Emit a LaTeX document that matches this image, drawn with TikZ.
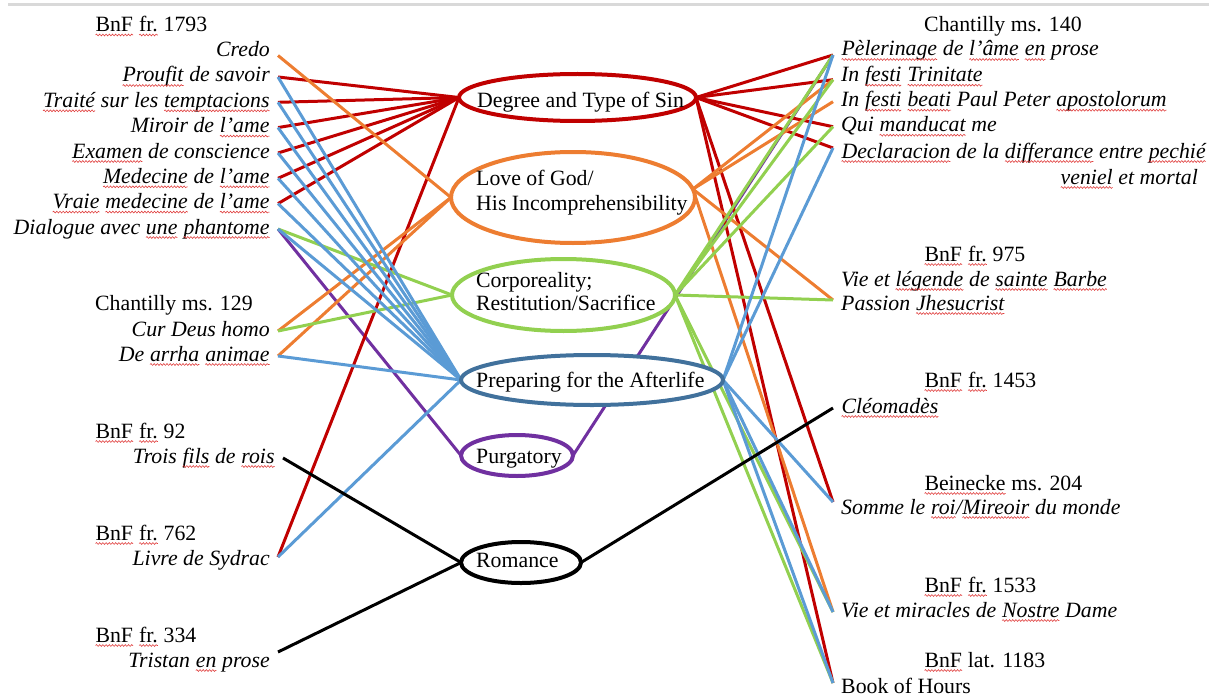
\documentclass[tikz,border=0pt]{standalone}
\usepackage{fontspec}
\setmainfont{Liberation Serif}
\usetikzlibrary{shapes.geometric,decorations.pathmorphing}
\definecolor{cred}{HTML}{C00000}
\definecolor{corange}{HTML}{ED7D31}
\definecolor{cgreen}{HTML}{92D050}
\definecolor{cblue}{HTML}{5B9BD5}
\definecolor{cdblue}{HTML}{41719C}
\definecolor{cpurple}{HTML}{7030A0}
\definecolor{squig}{HTML}{E0403F}
\newcommand\fs{\fontsize{21.8pt}{25.5pt}\selectfont}
\newcommand\sq[1]{\tikz[baseline=(w.base)]{\node[inner sep=0pt,outer sep=0pt,anchor=base,text height=,text depth=](w){#1};\draw[squig,line width=0.6pt,decorate,decoration={snake,amplitude=0.9pt,segment length=3.2pt}]([yshift=-3.5pt]w.base west)--([yshift=-3.5pt]w.base east);}}
\pgfdeclarelayer{bg}
\pgfsetlayers{bg,main}
\begin{document}
\begin{tikzpicture}[x=1pt,y=-1pt,
  hd/.style={anchor=base west,inner sep=0pt,font=\fs},
  litem/.style={anchor=base east,inner xsep=8pt,inner ysep=0pt,text height=15pt,text depth=5pt,font=\fs\itshape},
  ritem/.style={anchor=base west,inner xsep=8pt,inner ysep=0pt,text height=15pt,text depth=5pt,font=\fs\itshape},
  ell/.style={ellipse,draw,fill=white,line width=4pt,inner sep=0pt,outer sep=0pt},
  etext/.style={anchor=base west,inner sep=0pt,font=\fs},
  er/.style={cred,line width=3pt},
  eo/.style={corange,line width=3pt},
  eg/.style={cgreen,line width=3pt},
  eb/.style={cblue,line width=3pt},
  ep/.style={cpurple,line width=3pt},
  ek/.style={black,line width=3pt}]
\useasboundingbox (0,0) rectangle (1209,698);
\draw[black!15,line width=3pt] (8,5) -- (1209,5);

% left headers
\node[hd] (h1) at (95,31.5) {\sq{BnF} \sq{fr.} 1793};
\node[hd] (h2) at (95,310) {Chantilly ms. 129};
\node[hd] (h3) at (95,438) {\sq{BnF} \sq{fr.} 92};
\node[hd] (h4) at (95,540) {\sq{BnF} \sq{fr.} 762};
\node[hd] (h5) at (95,642) {\sq{BnF} \sq{fr.} 334};
% left items
\node[litem] (credo) at (278,56.5) {Credo};
\node[litem] (proufit) at (278,82) {\sq{Proufit} de savoir};
\node[litem] (traite) at (278,107.3) {\sq{Traité} sur les \sq{temptacions}};
\node[litem] (miroir) at (278,132.6) {Miroir de \sq{l’ame}};
\node[litem] (examen) at (278,158) {\sq{Examen} de conscience};
\node[litem] (medecine) at (278,183.3) {\sq{Medecine} de \sq{l’ame}};
\node[litem] (vraie) at (278,208.6) {\sq{Vraie} \sq{medecine} de \sq{l’ame}};
\node[litem] (dialogue) at (278,234) {Dialogue avec \sq{une} \sq{phantome}};
\node[litem] (cur) at (278,336) {Cur Deus homo};
\node[litem] (arrha) at (278,361) {De \sq{arrha} \sq{animae}};
\node[litem] (trois) at (283,463) {Trois \sq{fils} de \sq{rois}};
\node[litem] (sydrac) at (278,565) {Livre de Sydrac};
\node[litem] (tristan) at (278,667) {Tristan \sq{en} prose};

% right headers
\node[hd] (h6) at (924,31.7) {Chantilly ms. 140};
\node[hd] (h7) at (924,261) {\sq{BnF} \sq{fr.} 975};
\node[hd] (h8) at (924,387) {\sq{BnF} \sq{fr.} 1453};
\node[hd] (h9) at (924,490) {\sq{Beinecke} ms. 204};
\node[hd] (h10) at (924,592) {\sq{BnF} \sq{fr.} 1533};
\node[hd] (h11) at (924,667) {\sq{BnF} lat. 1183};
% right items
\node[ritem] (pel) at (833,56) {\sq{Pèlerinage} de \sq{l’âme} \sq{en} prose};
\node[ritem] (trin) at (833,81.7) {In \sq{festi} \sq{Trinitate}};
\node[ritem] (beati) at (833,106.7) {In \sq{festi} \sq{beati} Paul Peter \sq{apostolorum}};
\node[ritem] (qui) at (833,131.7) {Qui \sq{manducat} me};
\node[ritem] (decl) at (833,158) {\sq{Declaracion} de la \sq{differance} entre \sq{pechié}};
\node[litem,inner xsep=0pt] (declb) at (1198,184) {\sq{veniel} et mortal};
\node[ritem] (barbe) at (833,286) {Vie et \sq{légende} de \sq{sainte} \sq{Barbe}};
\node[ritem] (passion) at (833,310) {Passion \sq{Jhesucrist}};
\node[ritem] (cleo) at (833,413) {\sq{Cléomadès}};
\node[ritem] (somme) at (833,514) {Somme le \sq{roi}/\sq{Mireoir} du monde};
\node[ritem] (miracles) at (833,617) {Vie et miracles de \sq{Nostre} Dame};
\node[ritem,font=\fs] (book) at (833,693) {Book of Hours};

% topic ellipses
\node[ell,draw=cred,minimum width=237pt,minimum height=47pt] (sin) at (577.5,97.5) {};
\node[ell,draw=corange,minimum width=244pt,minimum height=91pt] (love) at (573,197.5) {};
\node[ell,draw=cgreen,minimum width=223pt,minimum height=72pt] (corp) at (563.5,295) {};
\node[ell,draw=cdblue,minimum width=262pt,minimum height=50pt] (prep) at (592,380) {};
\node[ell,draw=cpurple,minimum width=112pt,minimum height=41pt] (purg) at (517,455.5) {};
\node[ell,draw=black,minimum width=120pt,minimum height=41pt] (rom) at (521,562.5) {};
\node[etext] (sinT) at (477,107) {Degree and Type of Sin};
\node[etext] (loveT1) at (476,185) {Love of God/};
\node[etext] (loveT2) at (476,210) {His Incomprehensibility};
\node[etext] (corpT1) at (476,287) {Corporeality;};
\node[etext] (corpT2) at (476,310) {Restitution/Sacrifice};
\node[etext] (prepT) at (476,387) {Preparing for the Afterlife};
\node[etext] (purgT) at (476,463) {Purgatory};
\node[etext] (romT) at (476,567) {Romance};

\begin{pgfonlayer}{bg}
% Purgatory (drawn first, partly hidden below the green line)
\draw[ep] (dialogue.east) -- (purg.west);
\draw[ep] (purg.east) -- ([yshift=-4pt]pel.west);
% Degree and Type of Sin
\foreach \n in {proufit,traite,miroir,examen,medecine,vraie}
  \draw[er] (\n.east) -- (sin.west);
\draw[er] ([yshift=3pt]sydrac.east) -- (sin.west);
\draw[er] (sin.east) -- ([yshift=-4pt]pel.west);
\draw[er] (sin.east) -- ([yshift=-3pt]trin.west);
\draw[er] (sin.east) -- (qui.west);
\draw[er] (sin.east) -- ([yshift=5pt]decl.west);
\draw[er] (sin.east) -- ([yshift=7pt]somme.west);
\draw[er] (sin.east) -- ([yshift=5pt]book.west);
% Love of God
\draw[eo] ([yshift=-4pt]credo.east) -- (love.west);
\draw[eo] (cur.east) -- (love.west);
\draw[eo] (arrha.east) -- (love.west);
\draw[eo] (love.4) -- ([yshift=-3pt]trin.west);
\draw[eo] (love.4) -- (beati.west);
\draw[eo] (love.4) -- ([yshift=5pt]passion.west);
\draw[eo] (love.4) -- (miracles.west);
% Corporeality
\draw[eg] (dialogue.east) -- (corp.west);
\draw[eg] (cur.east) -- (corp.west);
\draw[eg] (corp.east) -- ([yshift=-4pt]pel.west);
\draw[eg] (corp.east) -- ([yshift=-3pt]trin.west);
\draw[eg] (corp.east) -- (qui.west);
\draw[eg] (corp.east) -- ([yshift=5pt]passion.west);
\draw[eg] (corp.east) -- (miracles.west);
\draw[eg] (corp.east) -- ([yshift=5pt]book.west);
% Preparing for the Afterlife
\foreach \n in {proufit,traite,miroir,examen,medecine,vraie,dialogue,arrha}
  \draw[eb] (\n.east) -- (prep.west);
\draw[eb] ([yshift=3pt]sydrac.east) -- (prep.west);
\draw[eb] (prep.east) -- ([yshift=-4pt]pel.west);
\draw[eb] (prep.east) -- ([yshift=5pt]decl.west);
\draw[eb] (prep.east) -- ([yshift=7pt]somme.west);
\draw[eb] (prep.east) -- (miracles.west);
\draw[eb] (prep.east) -- ([yshift=5pt]book.west);
% Romance
\draw[ek] (trois.east) -- (rom.west);
\draw[ek] ([yshift=10pt]tristan.east) -- (rom.west);
\draw[ek] (rom.east) -- (cleo.west);
\end{pgfonlayer}
\end{tikzpicture}
\end{document}
